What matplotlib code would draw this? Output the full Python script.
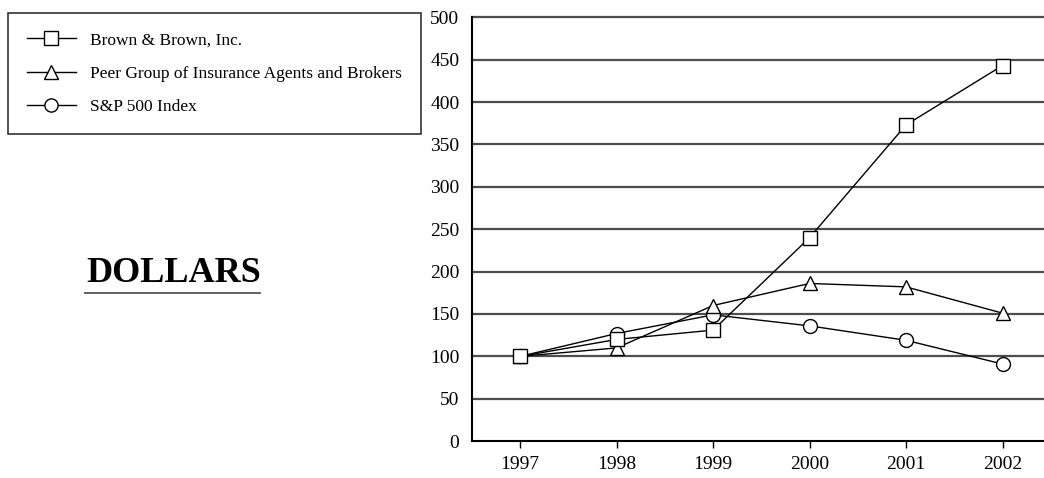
import matplotlib.pyplot as plt

years = [1997, 1998, 1999, 2000, 2001, 2002]
brown = [100, 120, 131, 240, 373, 443]
peer = [100, 110, 160, 186, 182, 151]
sp500 = [100, 127, 149, 136, 119, 91]
yticks = [0, 50, 100, 150, 200, 250, 300, 350, 400, 450, 500]

plt.rcParams['font.family'] = ['Liberation Serif', 'DejaVu Serif']

fig = plt.figure(figsize=(10.44, 4.78), dpi=100)
ax = fig.add_axes([0.452, 0.077, 0.548, 0.887])

# horizontal grid lines
for v in yticks[1:]:
    ax.axhline(v, color='#4d4d4d', lw=1.6, zorder=1, clip_on=False)

style = dict(color='black', lw=1.0, markersize=10, markerfacecolor='white',
             markeredgecolor='black', markeredgewidth=1.0)
l3, = ax.plot(years, sp500, marker='o', label='S&P 500 Index', zorder=3, **style)
l2, = ax.plot(years, peer, marker='^', label='Peer Group of Insurance Agents and Brokers',
              zorder=4, **style)
l1, = ax.plot(years, brown, marker='s', label='Brown & Brown, Inc.', zorder=5, **style)

ax.set_xlim(1996.5, 2002.43)
ax.set_ylim(0, 500)
ax.set_xticks(years)
ax.set_yticks(yticks)
ax.tick_params(axis='both', labelsize=14, colors='black')
ax.tick_params(axis='y', length=0, pad=9)
ax.tick_params(axis='x', length=5, width=1, pad=6)
for s in ['top', 'right']:
    ax.spines[s].set_visible(False)
for s in ['left', 'bottom']:
    ax.spines[s].set_linewidth(1.5)
    ax.spines[s].set_color('black')

leg = fig.legend(handles=[l1, l2, l3], loc='upper left', bbox_to_anchor=(0.0077, 0.9728),
                 fontsize=12.5, frameon=True, fancybox=False, edgecolor='black',
                 handlelength=2.8, handletextpad=0.8, labelspacing=1.0,
                 borderpad=1.1, borderaxespad=0, markerscale=0.95)
leg.get_frame().set_linewidth(1.2)

fig.text(0.1665, 0.428, 'DOLLARS', fontsize=26, fontweight='bold',
         ha='center', va='center')
fig.add_artist(plt.Line2D([85 / 1044, 260 / 1044], [1 - 293 / 478, 1 - 293 / 478],
                          color='#555555', lw=1.3))

fig.savefig('out.png', dpi=100)
